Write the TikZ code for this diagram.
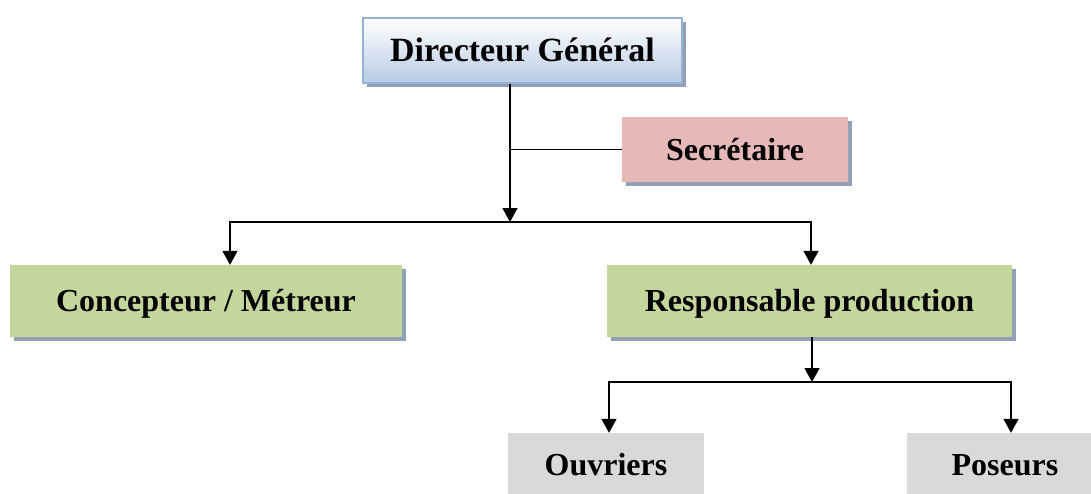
\documentclass[tikz,border=0pt]{standalone}
\usepackage{fontspec}
\setmainfont{Liberation Serif}
\usetikzlibrary{arrows.meta,shadows}
\definecolor{shadowc}{RGB}{145,160,180}
\definecolor{dgtop}{RGB}{255,255,255}
\definecolor{dgbot}{RGB}{184,204,228}
\definecolor{dgborder}{RGB}{149,179,215}
\definecolor{secfill}{RGB}{230,185,184}
\definecolor{greenfill}{RGB}{195,214,155}
\definecolor{grayfill}{RGB}{217,217,217}
\tikzset{
  box/.style={inner sep=0pt, text depth=0pt, font=\bfseries\fontsize{32}{38}\selectfont, text height=21pt},
  shad/.style={general shadow={fill=shadowc, shadow xshift=4pt, shadow yshift=-4pt}},
  arr/.style={line width=1.7pt, line join=miter, -{Triangle[width=15pt,length=14pt]}},
  conn/.style={line width=1.7pt}
}
\begin{document}
\begin{tikzpicture}[x=1pt,y=-1pt]
\clip (0,0) rectangle (1091,493);
\fill[white] (0,0) rectangle (1091,493);
% boxes
\node[box, shad, top color=dgtop, bottom color=dgbot, draw=dgborder, line width=1.2pt,
      minimum width=319pt, minimum height=65pt, text height=22.5pt,
      font=\bfseries\fontsize{34}{40}\selectfont] (DG) at (522.5,50.5) {Directeur Général};
\node[box, shad, fill=secfill, minimum width=226pt, minimum height=65pt] (Sec) at (735,149.5) {Secrétaire};
\node[box, shad, fill=greenfill, minimum width=392pt, minimum height=72pt] (Conc) at (206,301) {Concepteur / Métreur};
\node[box, shad, fill=greenfill, minimum width=405pt, minimum height=72pt] (Resp) at (809.5,301) {Responsable production};
\node[box, fill=grayfill, minimum width=196pt, minimum height=64pt] (Ouv) at (606,465) {Ouvriers};
\node[box, fill=grayfill, minimum width=196pt, minimum height=64pt] (Pos) at (1005,465) {Poseurs};
% connectors
\coordinate (m1) at (510,222);
\coordinate (a1) at (230,222);
\coordinate (a2) at (811,222);
\coordinate (m2) at (812,382);
\coordinate (b1) at (609,382);
\coordinate (b2) at (1011,382);
\draw[conn] (Sec.west) -- (Sec.west -| m1);
\draw[arr] (DG.south -| m1) -- (m1);
\draw[arr] (m1) -- (a1) -- (Conc.north -| a1);
\draw[arr] (m1) -- (a2) -- (Resp.north -| a2);
\draw[arr] (Resp.south -| m2) -- (m2);
\draw[arr] (m2) -- (b1) -- (Ouv.north -| b1);
\draw[arr] (m2) -- (b2) -- (Pos.north -| b2);
\end{tikzpicture}
\end{document}
